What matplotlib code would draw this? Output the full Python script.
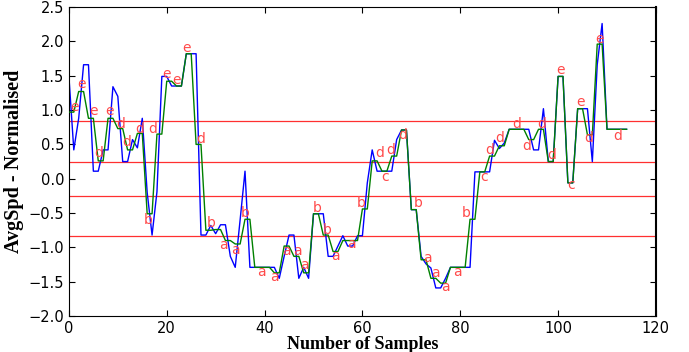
import numpy as np
import matplotlib
matplotlib.use("Agg")
import matplotlib.pyplot as plt

# normalised average speed, one value per sample
avg_spd = [1.49, 0.42, 0.88, 1.66, 1.66, 0.11, 0.11, 0.42, 0.42, 1.34,
           1.20, 0.25, 0.25, 0.57, 0.45, 0.88, -0.20, -0.82, -0.19, 1.49,
           1.49, 1.35, 1.35, 1.35, 1.82, 1.82, 1.82, -0.82, -0.82, -0.68,
           -0.80, -0.67, -0.67, -1.13, -1.29, -0.60, 0.11, -1.29, -1.29, -1.29,
           -1.29, -1.29, -1.29, -1.45, -1.13, -0.82, -0.82, -1.45, -1.29, -1.45,
           -0.51, -0.51, -0.51, -1.13, -1.13, -0.98, -0.83, -0.98, -0.98, -0.83,
           -0.83, -0.06, 0.42, 0.11, 0.11, 0.11, 0.11, 0.57, 0.71, 0.71,
           -0.45, -0.45, -1.13, -1.24, -1.30, -1.59, -1.59, -1.45, -1.29, -1.29,
           -1.29, -1.29, -1.29, 0.10, 0.10, 0.10, 0.10, 0.56, 0.44, 0.52,
           0.72, 0.72, 0.72, 0.72, 0.72, 0.42, 0.42, 1.02, 0.25, 0.25,
           1.49, 1.49, -0.06, -0.06, 1.02, 1.02, 1.02, 0.25, 1.66, 2.26,
           0.72, 0.72, 0.72, 0.72, 0.72]

# piecewise aggregate values, one per 2 samples
paa = [0.97, 1.27, 0.88, 0.26, 0.88, 0.73, 0.42, 0.66, -0.51, 0.65,
       1.42, 1.35, 1.82, 0.50, -0.75, -0.74, -0.90, -0.95, -0.59, -1.29,
       -1.29, -1.37, -0.98, -1.13, -1.37, -0.51, -0.82, -1.06, -0.90, -0.90,
       -0.44, 0.26, 0.11, 0.33, 0.71, -0.45, -1.18, -1.45, -1.52, -1.29,
       -1.29, -0.59, 0.10, 0.33, 0.48, 0.72, 0.72, 0.57, 0.72, 0.25,
       1.49, -0.06, 1.02, 0.64, 1.96, 0.72, 0.72, 0.72]

breakpoints = [-0.84, -0.25, 0.25, 0.84]

# SAX symbols and where they sit (sample, value)
symbols = ["e", "e", "e", "d", "e", "d", "d", "d", "b", "d",
           "e", "e", "e", "d", "b", "a", "a", "b", "a", "a",
           "a", "a", "a", "b", "b", "a", "a", "b", "d", "c",
           "d", "d", "b", "a", "a", "a", "a", "b", "c", "d",
           "d", "d", "d", "d", "d", "e", "c", "e", "d", "e", "d"]
sym_x = [1.1, 2.5, 5.0, 6.0, 8.4, 10.6, 11.9, 14.4, 16.3, 17.2,
         20.0, 22.0, 24.0, 27.0, 29.0, 31.5, 34.0, 36.0, 39.3, 42.0,
         44.5, 46.8, 48.2, 50.8, 52.7, 54.5, 57.8, 59.8, 63.5, 64.6,
         65.8, 68.2, 71.4, 73.2, 75.0, 76.9, 79.5, 81.3, 84.9, 86.1,
         88.0, 91.5, 93.5, 96.7, 98.7, 100.4, 102.6, 104.5, 106.3, 108.5, 112.2]
sym_y = [1.05, 1.38, 0.98, 0.38, 0.98, 0.80, 0.54, 0.73, -0.60, 0.73,
         1.53, 1.44, 1.90, 0.58, -0.65, -0.96, -1.04, -0.50, -1.36, -1.43,
         -1.05, -1.05, -1.25, -0.42, -0.75, -1.13, -0.95, -0.36, 0.37, 0.03,
         0.42, 0.63, -0.36, -1.15, -1.37, -1.57, -1.36, -0.50, 0.03, 0.42,
         0.59, 0.80, 0.47, 0.80, 0.34, 1.58, -0.09, 1.12, 0.59, 2.04, 0.62]

x = np.arange(len(avg_spd))
green = [paa[i // 2] for i in x]

fig = plt.figure(figsize=(6.89, 3.52), dpi=100)
ax = fig.add_axes([0.100, 0.102, 0.852, 0.878])

for b in breakpoints:
    ax.axhline(b, color="#ff3030", lw=0.9, zorder=1)

ax.plot(x, avg_spd, color="#0000ff", lw=1.0, zorder=2)
ax.plot(x, green, color="#008000", lw=1.0, zorder=3)

for s, sx, sy in zip(symbols, sym_x, sym_y):
    ax.text(sx, sy, s, color="#ff4a4a", fontsize=10, ha="center",
            va="center", zorder=4)

ax.set_xlim(0, 120)
ax.set_ylim(-2.0, 2.5)
ax.set_xticks(np.arange(0, 121, 20))
ax.set_yticks(np.arange(-2.0, 2.51, 0.5))
ax.tick_params(direction="in", top=True, right=True, length=4, labelsize=10.5)
ax.spines["right"].set_linewidth(1.5)

ax.set_xlabel("Number of Samples", family="Liberation Serif",
              fontweight="bold", fontsize=13, labelpad=0)
ax.set_ylabel("AvgSpd - Normalised", family="Liberation Serif",
              fontweight="bold", fontsize=14.5, labelpad=3)

fig.savefig("out.png", dpi=100)
